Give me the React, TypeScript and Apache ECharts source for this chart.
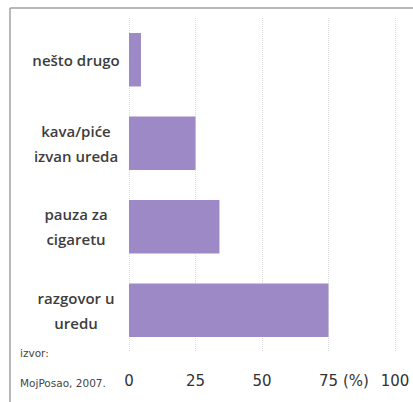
import React, { useEffect, useRef } from "react";
import * as echarts from "echarts";

const categories = ["nešto drugo", "kava/piće\nizvan ureda", "pauza za\ncigaretu", "razgovor u\nuredu"];
const values = [4.5, 25, 34, 75];
const xTicks = [0, 25, 50, 75, 100];
const sourceText = "izvor:\nMojPosao, 2007.";
const unitText = "(%)";

export default function App() {
  const ref = useRef<HTMLDivElement>(null);
  useEffect(() => {
    const chart = echarts.init(ref.current!, null, { renderer: "svg" });
    const font = "DejaVu Sans, Verdana, sans-serif";
    chart.setOption({
      animation: false,
      backgroundColor: "#ffffff",
      grid: { left: 129, right: 18, top: 18, bottom: 50 },
      xAxis: {
        type: "value",
        min: xTicks[0],
        max: xTicks[xTicks.length - 1],
        interval: 25,
        axisLine: { show: false },
        axisTick: { show: false },
        axisLabel: {
          color: "#333",
          fontSize: 15,
          fontFamily: font,
          margin: 21,
          formatter: (v: number) => (xTicks.includes(v) ? String(v) : ""),
        },
        splitLine: { show: true, lineStyle: { color: "#dcdcdc", type: "dotted", width: 1 } },
      },
      yAxis: {
        type: "category",
        inverse: true,
        data: categories,
        axisLine: { show: false },
        axisTick: { show: false },
        axisLabel: {
          color: "#3d3d3d",
          fontSize: 15,
          fontWeight: 600,
          fontFamily: "Open Sans, sans-serif",
          align: "center",
          margin: 53,
          lineHeight: 25,
        },
      },
      series: [
        {
          type: "bar",
          data: values,
          barCategoryGap: "36%",
          itemStyle: { color: "#9d89c5" },
        },
      ],
      graphic: [
        { type: "line", shape: { x1: 10, y1: 8, x2: 413, y2: 8 }, style: { stroke: "#a0a0a0", lineWidth: 1.5 } },
        { type: "line", shape: { x1: 10, y1: 8, x2: 10, y2: 402 }, style: { stroke: "#a0a0a0", lineWidth: 1.5 } },
        {
          type: "text",
          left: 20,
          top: 338,
          style: { text: sourceText, fill: "#444", font: "10.5px " + font, lineHeight: 30 },
        },
        {
          type: "text",
          x: 356,
          y: 381,
          style: { text: unitText, fill: "#333", font: "15px " + font, align: "center", verticalAlign: "middle" },
        },
      ],
    });
    return () => chart.dispose();
  }, []);
  return <div ref={ref} style={{ position: "absolute", left: 0, top: 0, width: 413, height: 402 }} />;
}
